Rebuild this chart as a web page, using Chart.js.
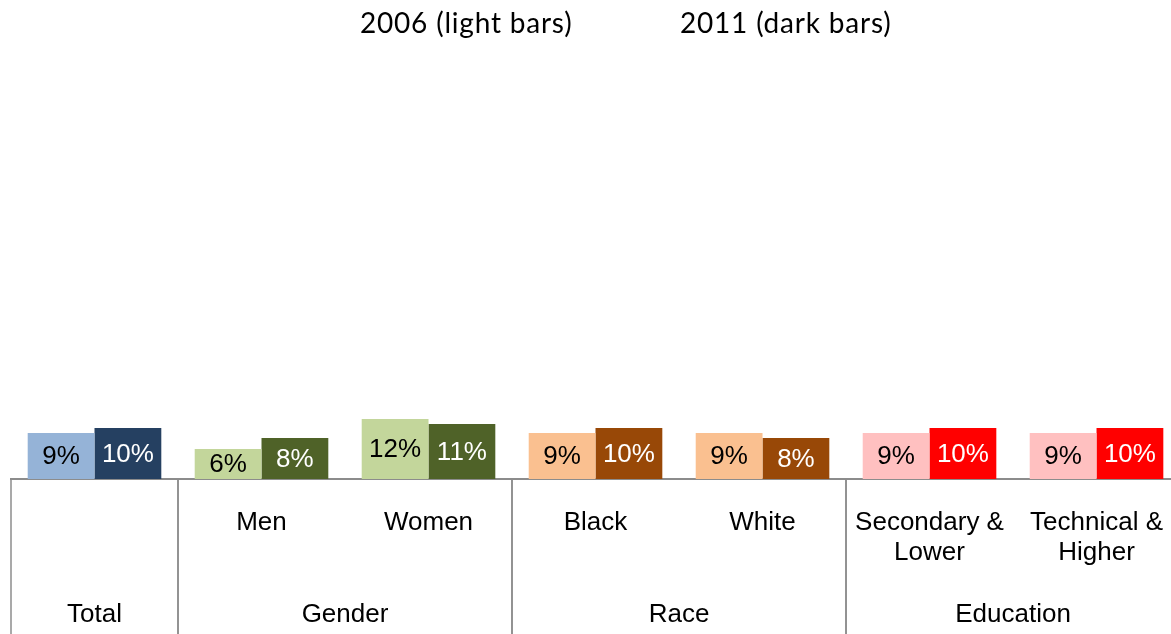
<!DOCTYPE html>
<html>
<head>
<meta charset="utf-8">
<script src="https://cdn.jsdelivr.net/npm/chart.js@4.4.1/dist/chart.umd.min.js"></script>
<style>
  html, body { margin: 0; padding: 0; background: #fff; overflow: hidden; }
  #wrap { position: relative; width: 1184px; height: 634px; }
  #legend { position: absolute; top: 5px; left: 0; font-family: Lato, "Open Sans", sans-serif; font-size: 28px; letter-spacing: 0.8px; color: #000; white-space: nowrap; }
  #legend span { position: absolute; top: 0; }
</style>
</head>
<body>
<div id="wrap">
  <canvas id="c" width="1184" height="634"></canvas>
  <div id="legend"><span style="left:360px">2006 (light bars)</span><span style="left:680px">2011 (dark bars)</span></div>
</div>
<script>
// categories (second row of the axis) and their groups (bottom row)
const subLabels = ["", "Men", "Women", "Black", "White", ["Secondary &", "Lower"], ["Technical &", "Higher"]];
const groupNames = ["Total", "Gender", "Race", "Education"];
const groupFirst = [0, 1, 3, 5];
const groupLast = [0, 2, 4, 6];

// unemployment share, %
const v2006 = [9.2, 6.0, 12.0, 9.2, 9.2, 9.2, 9.2];
const v2011 = [10.2, 8.2, 11.0, 10.2, 8.2, 10.2, 10.2];

const light = ["#95B3D7", "#C3D69B", "#C3D69B", "#FAC090", "#FAC090", "#FFC0C0", "#FFC0C0"];
const dark = ["#254061", "#4F6228", "#4F6228", "#984807", "#984807", "#FF0000", "#FF0000"];

const FONT = "Liberation Sans, Arial, sans-serif";

// value labels in the middle of each bar
const barLabels = {
  id: "barLabels",
  afterDatasetsDraw(chart) {
    const ctx = chart.ctx;
    ctx.save();
    ctx.font = "26px " + FONT;
    ctx.textAlign = "center";
    ctx.textBaseline = "middle";
    chart.data.datasets.forEach((ds, i) => {
      chart.getDatasetMeta(i).data.forEach((el, j) => {
        ctx.fillStyle = i === 0 ? "#000" : "#fff";
        ctx.fillText(Math.round(ds.data[j]) + "%", el.x, (el.y + el.base) / 2 + 1);
      });
    });
    ctx.restore();
  },
};

// group row + separators under the axis
const groups = {
  id: "groups",
  afterDraw(chart) {
    const ctx = chart.ctx, x = chart.scales.x, a = chart.chartArea;
    const half = (x.getPixelForValue(1) - x.getPixelForValue(0)) / 2;
    ctx.save();
    ctx.strokeStyle = "#8c8c8c";
    ctx.lineWidth = 1.5;
    ctx.font = "26px " + FONT;
    ctx.fillStyle = "#000";
    ctx.textAlign = "center";
    ctx.textBaseline = "middle";
    groupNames.forEach((g, k) => {
      const l = x.getPixelForValue(groupFirst[k]) - half;
      const r = x.getPixelForValue(groupLast[k]) + half;
      [l, r].forEach((px) => {
        ctx.beginPath();
        ctx.moveTo(px, a.bottom);
        ctx.lineTo(px, chart.height);
        ctx.stroke();
      });
      ctx.fillText(g, (l + r) / 2, a.bottom + 136);
    });
    ctx.restore();
  },
};

new Chart(document.getElementById("c"), {
  type: "bar",
  data: {
    labels: subLabels,
    datasets: [
      { label: "2006", data: v2006, backgroundColor: light, categoryPercentage: 0.8, barPercentage: 1 },
      { label: "2011", data: v2011, backgroundColor: dark, categoryPercentage: 0.8, barPercentage: 1 },
    ],
  },
  options: {
    responsive: false, animation: false,
    layout: { padding: { top: 79, left: 11, right: 0, bottom: 0 } },
    plugins: { legend: { display: false }, tooltip: { enabled: false } },
    scales: {
      x: {
        grid: { display: false },
        border: { display: true, color: "#8c8c8c", width: 2 },
        ticks: { color: "#000", padding: 21, maxRotation: 0, autoSkip: false, font: { family: FONT, size: 26, lineHeight: 1.15 } },
        afterFit: (s) => { s.height = 155; },
      },
      y: { display: false, min: 0, max: 80 },
    },
  },
  plugins: [barLabels, groups],
});
</script>
</body>
</html>
